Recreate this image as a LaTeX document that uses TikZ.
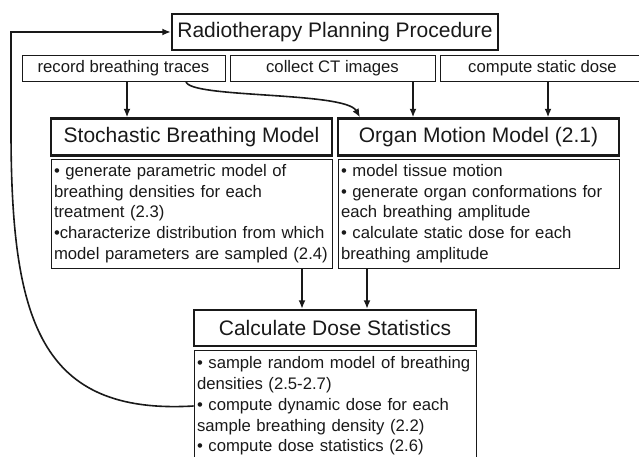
\documentclass[tikz,border=0pt]{standalone}
\usepackage{fontspec}
\setmainfont{Liberation Sans}
\usetikzlibrary{shapes,arrows,arrows.meta}

\begin{document}
\begin{tikzpicture}[x=1pt, y=-1pt, >={Latex[length=8.5pt,width=7pt]},
  every node/.style={draw=black!90, text=black!90},
  plan/.style={line width=2.4pt, minimum height=36pt, inner sep=0pt, font=\fontsize{21}{25}\selectfont},
  task/.style={line width=0.9pt, minimum height=26pt, minimum width=205pt, inner sep=0pt, font=\fontsize{16.7}{20.8}\selectfont},
  notes/.style={line width=0.9pt, minimum width=281pt, text width=275pt, inner xsep=3pt, inner ysep=0pt, align=left, font=\fontsize{16.7}{20.8}\selectfont},
  link/.style={->, line width=1.6pt, draw=black!90}]
  \useasboundingbox (0,0) rectangle (639,457);
  \clip (0,0) rectangle (639,457);

  % Planning procedure
  \node[plan, minimum width=326pt] (plan) at (335,32) {Radiotherapy Planning Procedure};

  % Data collection
  \node[task, minimum width=203pt] (trace) at (123.5,68) {record breathing traces};
  \node[task] (ct) at (332.5,68) {collect CT images};
  \node[task] (static) at (542.5,68) {compute static dose};

  % Models
  \node[plan, minimum width=281pt, minimum height=37pt] (breath) at (191.5,137) {Stochastic Breathing Model};
  \node[plan, minimum width=281pt, minimum height=37pt] (organ) at (478.5,137) {Organ Motion Model (2.1)};

  \node[notes, minimum height=109pt] (breathnotes) at (191.5,213.5) {%
    • generate parametric model of\\
    breathing densities for each\\
    treatment (2.3)\\
    •characterize distribution from which\\
    model parameters are sampled (2.4)};
  \node[notes, minimum height=109pt] (organnotes) at (478.5,213.5) {%
    • model tissue motion\\
    • generate organ conformations for\\
    each breathing amplitude\\
    • calculate static dose for each\\
    breathing amplitude};

  % Dose statistics
  \node[plan, minimum width=282pt] (stats) at (335,328) {Calculate Dose Statistics};
  \node[notes, minimum width=282pt, text width=276pt, minimum height=112pt] (statnotes) at (335,406) {%
    • sample random model of breathing\\
    densities (2.5-2.7)\\
    • compute dynamic dose for each\\
    sample breathing density (2.2)\\
    • compute dose statistics (2.6)};

  % Arrows
  \draw[link] ([xshift=3.5pt]trace.south) -- ([xshift=3.5pt]trace.south |- breath.north);
  \draw[link] ([xshift=62.5pt]trace.south) .. controls +(2,17) and +(-15,-26) .. ([xshift=-118.5pt]organ.north);
  \draw[link] ([xshift=80.5pt]ct.south) -- ([xshift=80.5pt]ct.south |- organ.north);
  \draw[link] ([xshift=5.5pt]static.south) -- ([xshift=5.5pt]static.south |- organ.north);

  \draw[link] ([xshift=110.5pt]breathnotes.south) -- ([xshift=110.5pt]breathnotes.south |- stats.north);
  \draw[link] ([xshift=-111.5pt]organnotes.south) -- ([xshift=-111.5pt]organnotes.south |- stats.north);

  % Feedback to planning
  \coordinate (back) at (11,130);
  \draw[link] (statnotes.west) .. controls +(-154,9) and +(0,190) .. (back) |- (plan.west);
\end{tikzpicture}
\end{document}
